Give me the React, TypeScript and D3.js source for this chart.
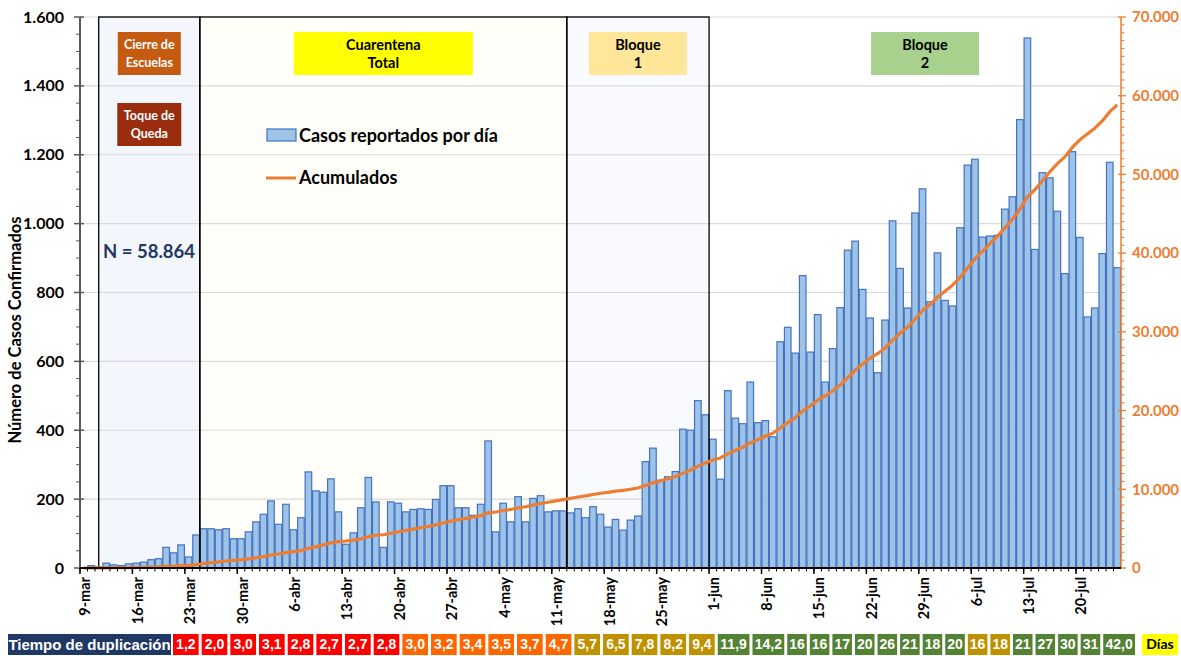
import * as d3 from 'd3';

// casos reportados por día, 9-mar a 25-jul
const dailyCases = [
  1, 7, 4, 14, 9, 7, 12, 14, 17, 24, 27, 60, 44, 67, 32, 96,
  114, 114, 111, 114, 85, 85, 105, 134, 156, 195, 127, 185, 111, 146, 279, 224, 220, 259, 163,
  69, 102, 175, 263, 192, 60, 192, 188, 163, 170, 172, 170, 199, 239, 239, 175, 175, 153, 185, 369,
  105, 188, 134, 207, 134, 202, 210, 163, 166, 166, 160, 172, 146, 178, 156,
  119, 141, 110, 139, 151, 309, 348, 255, 265, 280, 403, 400, 486, 445, 374, 258, 515, 435, 419, 540,
  422, 428, 381, 657, 699, 624, 849, 627, 736, 540, 637, 756, 923, 949,
  809, 726, 567, 720, 1008, 870, 755, 1031, 1101, 773, 915, 777, 761, 988, 1170, 1187, 961, 964, 966,
  1042, 1078, 1302, 1539, 925, 1148, 1133, 1036, 855, 1209, 960, 729, 755, 913, 1178, 872,
];
const totalCases = 58864;

const monthNames = ['ene', 'feb', 'mar', 'abr', 'may', 'jun', 'jul', 'ago'];
const leftTicks = [0, 200, 400, 600, 800, 1000, 1200, 1400, 1600];
const rightTicks = [0, 10000, 20000, 30000, 40000, 50000, 60000, 70000];

const doublingValues = [
  '1,2', '2,0', '3,0', '3,1', '2,8', '2,7', '2,7', '2,8',
  '3,0', '3,2', '3,4', '3,5', '3,7', '4,7',
  '5,7', '6,5', '7,8', '8,2', '9,4',
  '11,9', '14,2', '16', '16', '17', '20', '26', '21', '18', '20',
  '16', '18',
  '21', '27', '30', '31', '42,0',
];
const doublingGroups = [
  'rojo', 'rojo', 'rojo', 'rojo', 'rojo', 'rojo', 'rojo', 'rojo',
  'naranja', 'naranja', 'naranja', 'naranja', 'naranja', 'naranja',
  'ocre', 'ocre', 'ocre', 'ocre', 'ocre',
  'verde', 'verde', 'verde', 'verde', 'verde', 'verde', 'verde', 'verde', 'verde', 'verde',
  'ocre', 'ocre',
  'verde', 'verde', 'verde', 'verde', 'verde',
];
const groupColors: Record<string, string> = {
  rojo: '#FF0000',
  naranja: '#FF6600',
  ocre: '#BF9000',
  verde: '#548235',
};

// fases: inicio / fin (UTC)
const phaseStarts = [Date.UTC(2020, 2, 11, 12), Date.UTC(2020, 2, 25), Date.UTC(2020, 4, 13), Date.UTC(2020, 5, 1)];
const phaseEnds = [Date.UTC(2020, 2, 25), Date.UTC(2020, 4, 13), Date.UTC(2020, 5, 1), Date.UTC(2020, 6, 26)];
const phaseFills = ['#F3F6FC', '#FFFEF8', '#F9FAFD', 'none'];

const W = 1181;
const H = 656;
const left = 80;
const right = 1121;
const top = 17;
const bottom = 568;
const font = 'Lato, "Open Sans", sans-serif';
const arial = '"Liberation Sans", Arial, sans-serif';

const fmt = d3.formatLocale({ decimal: ',', thousands: '.', grouping: [3], currency: ['', ''] }).format(',d');

export default function App() {
  const start = new Date(Date.UTC(2020, 2, 9));
  const days = d3.utcDay.range(start, d3.utcDay.offset(start, dailyCases.length));
  const end = d3.utcDay.offset(days[days.length - 1], 1);

  const t = d3.scaleUtc().domain([start, end]).range([left, right]);
  const x = d3.scaleBand<Date>().domain(days).range([left, right]).paddingInner(0.12).paddingOuter(0.06);
  const step = x.step();
  const y = d3.scaleLinear().domain([0, 1600]).range([bottom, top]);
  const y2 = d3.scaleLinear().domain([0, 70000]).range([bottom, top]);

  const cumulative = Array.from(d3.cumsum(dailyCases));
  const line = d3
    .line<number>()
    .x((_, i) => t(days[i]) + step / 2)
    .y((v) => y2(v));

  const mondays = d3.utcMonday.range(start, end);
  const label = (d: Date) => `${d.getUTCDate()}-${monthNames[d.getUTCMonth()]}`;

  const leftMinor = d3.range(0, 1601, 50).filter((v) => v % 200 !== 0);
  const rightMinor = d3.range(0, 70001, 1000).filter((v) => v % 10000 !== 0);

  // fila de tiempo de duplicación
  const weights = doublingValues.map((v) => v.length + 1.7);
  const cum = [0, ...Array.from(d3.cumsum(weights))];
  const bx = d3.scaleLinear().domain([0, cum[cum.length - 1]]).range([173, 1138]);

  const phaseX = (i: number) => [t(new Date(phaseStarts[i])), t(new Date(phaseEnds[i]))];
  const phaseMid = (i: number) => (phaseX(i)[0] + phaseX(i)[1]) / 2;

  const tagBoxes = [
    { lines: ['Cierre de', 'Escuelas'], phase: 0, y: 32, w: 63, fill: '#C55A11', color: '#fff', size: 12.5 },
    { lines: ['Toque de', 'Queda'], phase: 0, y: 103, w: 64, fill: '#9B2D0F', color: '#fff', size: 12.5 },
    { lines: ['Cuarentena', 'Total'], phase: 1, y: 32, w: 179, fill: '#FFFF00', color: '#000', size: 14.5 },
    { lines: ['Bloque', '1'], phase: 2, y: 32, w: 98, fill: '#FFE699', color: '#000', size: 14.5 },
    { lines: ['Bloque', '2'], phase: 3, y: 32, w: 108, fill: '#A9D18E', color: '#000', size: 14.5, dx: 10 },
  ];

  return (
    <svg width={W} height={H} style={{ position: 'absolute', left: 0, top: 0, background: '#fff' }}>
      {/* fases */}
      {phaseFills.map((fill, i) => {
        const [a, b] = phaseX(i);
        return fill === 'none' ? null : <rect key={i} x={a} y={top} width={b - a} height={bottom - top} fill={fill} />;
      })}

      {/* grilla */}
      {leftTicks.slice(1).map((v) => (
        <line key={v} x1={left} x2={right} y1={y(v)} y2={y(v)} stroke="#D9D9D9" strokeWidth={1.2} />
      ))}

      {/* barras */}
      {dailyCases.map((v, i) => (
        <rect
          key={i}
          x={x(days[i])}
          y={y(v)}
          width={x.bandwidth()}
          height={bottom - y(v)}
          fill="#9DC3E6"
          stroke="#4472C4"
          strokeWidth={1.2}
        />
      ))}

      {/* bordes de fases */}
      {phaseFills.slice(0, 3).map((_, i) => {
        const [a, b] = phaseX(i);
        return <rect key={i} x={a} y={top} width={b - a} height={bottom - top} fill="none" stroke="#000" strokeWidth={1.3} />;
      })}

      {/* acumulados */}
      <path d={line(cumulative) || ''} fill="none" stroke="#ED7D31" strokeWidth={3.2} strokeLinejoin="round" />

      {/* eje izquierdo */}
      <line x1={left} x2={left} y1={top} y2={bottom} stroke="#595959" strokeWidth={2} />
      {leftTicks.map((v) => (
        <g key={v}>
          <line x1={left - 6} x2={left + 4} y1={y(v)} y2={y(v)} stroke="#595959" strokeWidth={1.5} />
          <text
            x={64}
            y={y(v)}
            dy="0.35em"
            textAnchor="end"
            fontFamily={font}
            fontWeight="bold"
            fontSize={16}
            fill="#000"
          >
            {fmt(v)}
          </text>
        </g>
      ))}
      {leftMinor.map((v) => (
        <line key={v} x1={left - 4} x2={left} y1={y(v)} y2={y(v)} stroke="#595959" strokeWidth={1} />
      ))}
      <text
        transform={`translate(21,330) rotate(-90)`}
        textAnchor="middle"
        fontFamily={font}
        fontWeight="bold"
        fontSize={16.5}
      >
        Número de Casos Confirmados
      </text>

      {/* eje derecho */}
      <line x1={right} x2={right} y1={top} y2={bottom} stroke="#ED7D31" strokeWidth={1.5} />
      {rightTicks.map((v) => (
        <g key={v}>
          <line x1={right - 3} x2={right + 5} y1={y2(v)} y2={y2(v)} stroke="#ED7D31" strokeWidth={1.3} />
          <text
            x={1132}
            y={y2(v)}
            dy="0.35em"
            fontFamily={font}
            fontWeight="bold"
            fontSize={15}
            fill="#ED7D31"
          >
            {fmt(v)}
          </text>
        </g>
      ))}
      {rightMinor.map((v) => (
        <line key={v} x1={right} x2={right + 3.5} y1={y2(v)} y2={y2(v)} stroke="#ED7D31" strokeWidth={1} />
      ))}

      {/* eje x */}
      <line x1={left} x2={right} y1={bottom} y2={bottom} stroke="#000" strokeWidth={2} />
      {days.map((d, i) => (
        <line key={i} x1={t(d)} x2={t(d)} y1={bottom} y2={bottom + 3.5} stroke="#000" strokeWidth={1} />
      ))}
      {mondays.map((d, i) => (
        <g key={i}>
          <line x1={t(d)} x2={t(d)} y1={bottom} y2={bottom + 6} stroke="#000" strokeWidth={1.5} />
          <text
            transform={`translate(${t(d) + step / 2 + 1.5},${bottom + 9}) rotate(-90)`}
            dy="0.35em"
            textAnchor="end"
            fontFamily={font}
            fontWeight="bold"
            fontSize={14.5}
          >
            {label(d)}
          </text>
        </g>
      ))}

      {/* etiquetas de fases */}
      {tagBoxes.map((b, i) => {
        const cx = phaseMid(b.phase) + (b.dx || 0);
        return (
          <g key={i}>
            <rect x={cx - b.w / 2} y={b.y} width={b.w} height={43} fill={b.fill} />
            {b.lines.map((s, j) => (
              <text
                key={j}
                x={cx}
                y={b.y + 12.5 + j * 18.5}
                dy="0.35em"
                textAnchor="middle"
                fontFamily={font}
                fontWeight="bold"
                fontSize={b.size}
                fill={b.color}
              >
                {s}
              </text>
            ))}
          </g>
        );
      })}

      {/* leyenda */}
      <rect x={267} y={129} width={29} height={12} fill="#9DC3E6" stroke="#4472C4" strokeWidth={1.2} />
      <text x={299} y={136} dy="0.35em" fontFamily={font} fontWeight="bold" fontSize={18}>
        Casos reportados por día
      </text>
      <line x1={266} x2={296} y1={178} y2={178} stroke="#ED7D31" strokeWidth={3} />
      <text x={299} y={178} dy="0.35em" fontFamily={font} fontWeight="bold" fontSize={18}>
        Acumulados
      </text>

      <text x={103} y={252} dy="0.35em" fontFamily={font} fontWeight="bold" fontSize={18.5} fill="#1F3864">
        N = {fmt(totalCases)}
      </text>

      {/* tiempo de duplicación */}
      <rect x={8} y={634} width={163} height={21} fill="#203864" />
      <text x={89.5} y={644.5} dy="0.35em" textAnchor="middle" fontFamily={arial} fontWeight="bold" fontSize={15} fill="#fff">
        Tiempo de duplicación
      </text>
      {doublingValues.map((v, i) => {
        const a = bx(cum[i]);
        const b = bx(cum[i + 1]) - 3;
        return (
          <g key={i}>
            <rect x={a} y={634} width={b - a} height={21} fill={groupColors[doublingGroups[i]]} />
            <text
              x={(a + b) / 2}
              y={644.5}
              dy="0.35em"
              textAnchor="middle"
              fontFamily={arial}
              fontWeight="bold"
              fontSize={14}
              fill="#fff"
            >
              {v}
            </text>
          </g>
        );
      })}
      <rect x={1142} y={634} width={36} height={21} fill="#FFFF00" />
      <text x={1160} y={644.5} dy="0.35em" textAnchor="middle" fontFamily={font} fontWeight="bold" fontSize={14} fill="#000">
        Días
      </text>
    </svg>
  );
}
